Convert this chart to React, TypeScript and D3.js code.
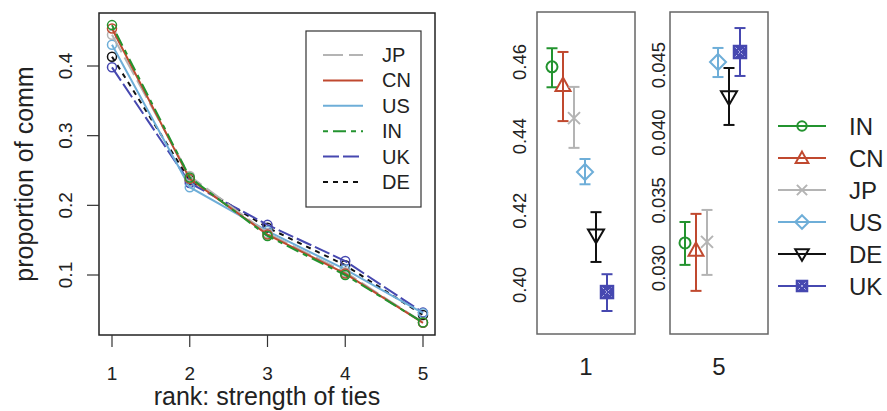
import React from "react";
import * as d3 from "d3";

const ranks = [1, 2, 3, 4, 5];
const lineSeries = ["JP", "CN", "US", "IN", "UK", "DE"];
const propIN = [0.4587, 0.240, 0.156, 0.100, 0.0318];
const propCN = [0.4538, 0.238, 0.158, 0.102, 0.0313];
const propJP = [0.4449, 0.242, 0.160, 0.104, 0.0319];
const propUS = [0.4304, 0.226, 0.163, 0.108, 0.0452];
const propDE = [0.4134, 0.236, 0.168, 0.114, 0.0426];
const propUK = [0.3981, 0.232, 0.172, 0.120, 0.0460];
const leftTicksY = [0.1, 0.2, 0.3, 0.4];

const series = ["IN", "CN", "JP", "US", "DE", "UK"];
const rank1Mean = [0.4587, 0.4538, 0.4449, 0.4304, 0.4134, 0.3981];
const rank1Lo = [0.4532, 0.4441, 0.4369, 0.4271, 0.4062, 0.393];
const rank1Hi = [0.4637, 0.4627, 0.4533, 0.4339, 0.4196, 0.4029];
const rank5Mean = [0.03185, 0.03134, 0.03193, 0.04522, 0.04264, 0.04596];
const rank5Lo = [0.03023, 0.02831, 0.02949, 0.04411, 0.04057, 0.04419];
const rank5Hi = [0.0334, 0.034, 0.03429, 0.04626, 0.04478, 0.04773];
const ticks1 = ["0.40", "0.42", "0.44", "0.46"];
const ticks5 = ["0.030", "0.035", "0.040", "0.045"];

const propBy: Record<string, number[]> = {
  IN: propIN, CN: propCN, JP: propJP, US: propUS, DE: propDE, UK: propUK,
};
const colors: Record<string, string> = {
  IN: "#23932f",
  CN: "#c0492f",
  JP: "#b4b4b4",
  US: "#6eaed8",
  DE: "#111111",
  UK: "#4648b0",
};
const dashes: Record<string, string> = {
  JP: "20 6",
  CN: "none",
  US: "none",
  IN: "5 5 13 5",
  UK: "16 4",
  DE: "5 5",
};

const FONT = "'Liberation Sans', Arial, Helvetica, sans-serif";

function Marker({ k, x, y, s = 1 }: { k: string; x: number; y: number; s?: number }) {
  const c = colors[k];
  const sw = 2;
  if (k === "IN") return <circle cx={x} cy={y} r={5.5 * s} fill="none" stroke={c} strokeWidth={sw} />;
  if (k === "CN") {
    const h = 7.5 * s;
    return <path d={`M${x},${y - h}L${x + h},${y + h * 0.8}L${x - h},${y + h * 0.8}Z`} fill="none" stroke={c} strokeWidth={sw} />;
  }
  if (k === "JP") {
    const h = 6 * s;
    return <path d={`M${x - h},${y - h}L${x + h},${y + h}M${x - h},${y + h}L${x + h},${y - h}`} stroke={c} strokeWidth={sw} />;
  }
  if (k === "US") {
    const h = 8 * s;
    return <path d={`M${x},${y - h}L${x + h},${y}L${x},${y + h}L${x - h},${y}Z`} fill="none" stroke={c} strokeWidth={sw} />;
  }
  if (k === "DE") {
    const h = 8 * s;
    return <path d={`M${x - h},${y - h * 0.7}L${x + h},${y - h * 0.7}L${x},${y + h}Z`} fill="none" stroke={c} strokeWidth={sw} />;
  }
  const h = 6.5 * s;
  return (
    <g>
      <rect x={x - h} y={y - h} width={2 * h} height={2 * h} fill={c} stroke={c} strokeWidth={1.5} />
      <path d={`M${x - h + 2},${y - h + 2}L${x + h - 2},${y + h - 2}M${x - h + 2},${y + h - 2}L${x + h - 2},${y - h + 2}`} stroke="#cfd0f5" strokeWidth={1} strokeDasharray="2 2" />
    </g>
  );
}

function LeftChart() {
  const x = d3.scaleLinear().domain([1, 5]).range([112, 423]);
  const y = d3.scaleLinear().domain([0.1, 0.4]).range([275, 66]);
  const line = d3.line<number>().x((_, i) => x(ranks[i])).y((d) => y(d));
  const box = { x0: 99, x1: 435, y0: 13, y1: 335 };
  const drawOrder = ["DE", "UK", "US", "JP", "CN", "IN"];
  const legY = d3.scalePoint<string>().domain(lineSeries).range([55, 182]);
  return (
    <g>
      {drawOrder.map((k) => (
        <g key={k}>
          <path d={line(propBy[k]) || ""} fill="none" stroke={colors[k]} strokeWidth={2} strokeDasharray={dashes[k]} />
          {propBy[k].map((v, i) => (
            <circle key={i} cx={x(ranks[i])} cy={y(v)} r={4.5} fill="none" stroke={colors[k]} strokeWidth={1.5} />
          ))}
        </g>
      ))}
      <rect x={box.x0} y={box.y0} width={box.x1 - box.x0} height={box.y1 - box.y0} fill="none" stroke="#222" strokeWidth={1.5} />
      {ranks.map((r) => (
        <g key={r}>
          <line x1={x(r)} x2={x(r)} y1={box.y1} y2={box.y1 + 12} stroke="#333" strokeWidth={1.2} />
          <text x={x(r)} y={380} textAnchor="middle" fontSize={19} fontFamily={FONT} fill="#222">{r}</text>
        </g>
      ))}
      {leftTicksY.map((t) => (
        <g key={t}>
          <line x1={box.x0} x2={box.x0 - 12} y1={y(t)} y2={y(t)} stroke="#333" strokeWidth={1.2} />
          <text transform={`translate(72,${y(t)}) rotate(-90)`} textAnchor="middle" fontSize={19} fontFamily={FONT} fill="#222">{t.toFixed(1)}</text>
        </g>
      ))}
      <text x={267} y={405} textAnchor="middle" fontSize={25} fontFamily={FONT} fill="#222">rank: strength of ties</text>
      <text transform={`translate(33,${(box.y0 + box.y1) / 2}) rotate(-90)`} textAnchor="middle" fontSize={25} fontFamily={FONT} fill="#222">proportion of comm</text>
      <rect x={306} y={31} width={115} height={176} fill="white" stroke="#333" strokeWidth={1.2} />
      {lineSeries.map((k) => (
        <g key={k}>
          <line x1={323} x2={363} y1={legY(k)} y2={legY(k)} stroke={colors[k]} strokeWidth={2} strokeDasharray={dashes[k]} />
          <text x={382} y={(legY(k) || 0) + 7} fontSize={20} fontFamily={FONT} fill="#222">{k}</text>
        </g>
      ))}
    </g>
  );
}

function Panel({ left, yScale, mean, lo, hi, ticks, tickX, label }: any) {
  const box = { x0: left, x1: left + 98, y0: 12, y1: 334 };
  const xs = d3.scalePoint<string>().domain(series).range([left + 15, left + 70]);
  return (
    <g>
      <rect x={box.x0} y={box.y0} width={box.x1 - box.x0} height={box.y1 - box.y0} fill="none" stroke="#666" strokeWidth={1.5} />
      {ticks.map((t: string) => (
        <text key={t} transform={`translate(${tickX},${yScale(+t)}) rotate(-90)`} textAnchor="middle" fontSize={18.5} fontFamily={FONT} fill="#222">{t}</text>
      ))}
      {series.map((k, i) => {
        const x = xs(k) || 0;
        const c = colors[k];
        return (
          <g key={k}>
            <line x1={x} x2={x} y1={yScale(lo[i])} y2={yScale(hi[i])} stroke={c} strokeWidth={2} />
            <line x1={x - 5.5} x2={x + 5.5} y1={yScale(lo[i])} y2={yScale(lo[i])} stroke={c} strokeWidth={2} />
            <line x1={x - 5.5} x2={x + 5.5} y1={yScale(hi[i])} y2={yScale(hi[i])} stroke={c} strokeWidth={2} />
            <Marker k={k} x={x} y={yScale(mean[i])} />
          </g>
        );
      })}
      <text x={(box.x0 + box.x1) / 2} y={375} textAnchor="middle" fontSize={24} fontFamily={FONT} fill="#222">{label}</text>
    </g>
  );
}

function RightCharts() {
  const y1 = d3.scaleLinear().domain([0.4, 0.46]).range([285, 62]);
  const y2 = d3.scaleLinear().domain([0.03, 0.045]).range([268, 65]);
  const legY = d3.scalePoint<string>().domain(series).range([126, 286]);
  return (
    <g>
      <Panel left={537} yScale={y1} mean={rank1Mean} lo={rank1Lo} hi={rank1Hi} ticks={ticks1} tickX={526} label="1" />
      <Panel left={670} yScale={y2} mean={rank5Mean} lo={rank5Lo} hi={rank5Hi} ticks={ticks5} tickX={665} label="5" />
      {series.map((k) => {
        const yy = legY(k) || 0;
        return (
          <g key={k}>
            <line x1={778} x2={826} y1={yy} y2={yy} stroke={colors[k]} strokeWidth={2} />
            <Marker k={k} x={802} y={yy} s={0.85} />
            <text x={849} y={yy + 8.5} fontSize={24} fontFamily={FONT} fill="#222">{k}</text>
          </g>
        );
      })}
    </g>
  );
}

export default function App() {
  return (
    <div style={{ position: "absolute", left: 0, top: 0 }}>
      <svg width={887} height={411} style={{ display: "block", background: "white" }}>
        <LeftChart />
        <RightCharts />
      </svg>
    </div>
  );
}
